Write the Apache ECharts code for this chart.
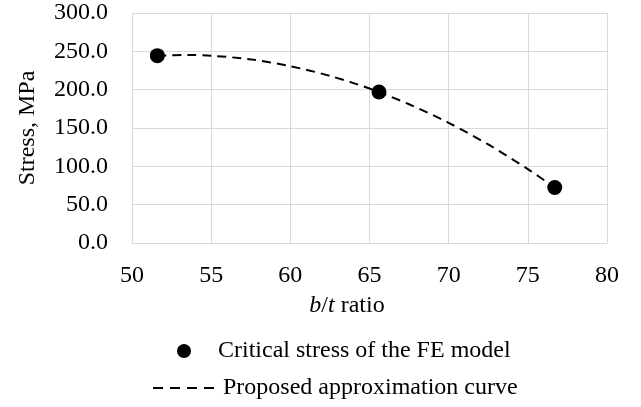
<!DOCTYPE html>
<html>
<head>
<meta charset="utf-8">
<script src="https://cdn.jsdelivr.net/npm/echarts@6/dist/echarts.min.js"></script>
<style>
  html, body { margin: 0; padding: 0; background: #fff; }
  #cs001 { width: 641px; height: 407px; }
</style>
</head>
<body>
<div id="cs001"></div>
<script>
// FE model results (b/t ratio, critical stress in MPa)
var feRatio = [51.6, 65.6, 76.7];
var feStress = [244.4, 197.0, 72.3];

// points
var curveRatio = [51.6, 53.5, 55, 57.5, 60, 62.5, 65, 67.5, 70, 72.5, 75, 76.7];
var curveStress = [244.4, 245.2, 244.3, 239.5, 230.6, 218.0, 201.5, 181.0, 156.8, 128.5, 96.4, 72.3];

var seriesNames = ['Critical stress of the FE model', 'Proposed approximation curve'];

var font = 'Liberation Serif, Times New Roman, serif';
var fs = 24;
var myChart = echarts.init(document.getElementById('cs001'));

function pairs(xs, ys) {
    var out = [];
    for (var i = 0; i < xs.length; i++) out.push([xs[i], ys[i]]);
    return out;
}

var option = {
    animation: false,
    textStyle: {fontFamily: font, color: '#000'},
    grid: {left: 132, right: 34, top: 13, bottom: 164},
    xAxis: {
        type: 'value',
        min: 50, max: 80, interval: 5,
        name: '{i|b}/{i|t} ratio',
        nameLocation: 'middle',
        nameGap: 51,
        nameTextStyle: {
            fontFamily: font, fontSize: fs, color: '#000',
            padding: [0, 45, 0, 0],
            rich: {i: {fontFamily: font, fontSize: fs, fontStyle: 'italic', color: '#000'}}
        },
        axisLine: {lineStyle: {color: '#d9d9d9', width: 1}},
        axisTick: {show: false},
        axisLabel: {fontFamily: font, fontSize: fs, color: '#000', margin: 21},
        splitLine: {show: true, lineStyle: {color: '#d9d9d9', width: 1}}
    },
    yAxis: {
        type: 'value',
        min: 0, max: 300, interval: 50,
        name: 'Stress, MPa',
        nameLocation: 'middle',
        nameGap: 92,
        nameTextStyle: {fontFamily: font, fontSize: fs, color: '#000'},
        axisLine: {show: true, lineStyle: {color: '#d9d9d9', width: 1}},
        axisTick: {show: false},
        axisLabel: {
            fontFamily: font, fontSize: fs, color: '#000', margin: 24,
            formatter: function (v) { return v.toFixed(1); }
        },
        splitLine: {show: true, lineStyle: {color: '#d9d9d9', width: 1}}
    },
    legend: [{
        data: [seriesNames[0]],
        left: 172, top: 334,
        itemWidth: 14, itemHeight: 14, itemGap: 0,
        icon: 'circle',
        itemStyle: {opacity: 1},
        textStyle: {fontFamily: font, fontSize: fs, color: '#000', padding: [0, 0, 0, 22]}
    }, {
        data: [seriesNames[1]],
        left: 147, top: 371,
        itemWidth: 61, itemHeight: 14, itemGap: 0,
        itemStyle: {opacity: 0},
        lineStyle: {color: '#000', width: 2, type: [10, 7]},
        textStyle: {fontFamily: font, fontSize: fs, color: '#000', padding: [0, 0, 0, 4]}
    }],
    series: [{
        name: seriesNames[1],
        type: 'line',
        data: pairs(curveRatio, curveStress),
        smooth: 0.3,
        symbol: 'none',
        z: 2,
        itemStyle: {color: '#000'},
        lineStyle: {color: '#000', width: 2, type: [9, 6]}
    }, {
        name: seriesNames[0],
        type: 'scatter',
        data: pairs(feRatio, feStress),
        symbol: 'circle',
        symbolSize: 15,
        z: 3,
        itemStyle: {color: '#000', opacity: 1}
    }]
};

if (option && typeof option === "object") {
    myChart.setOption(option, true);
}
</script>
</body>
</html>
